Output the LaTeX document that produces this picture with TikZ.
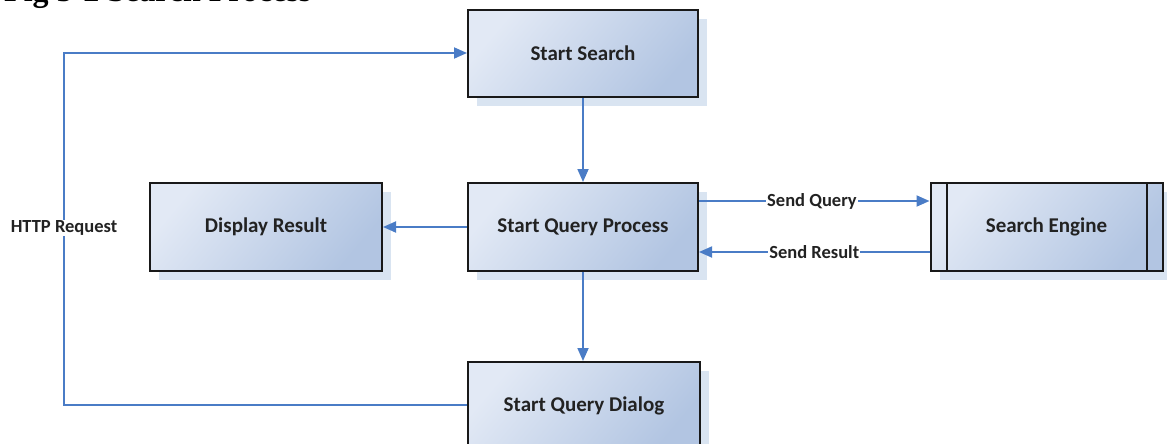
\documentclass[tikz,border=0pt]{standalone}
\usepackage{fontspec}
\setmainfont{Carlito}
\newfontfamily\titlefont{Liberation Serif}
\usetikzlibrary{arrows.meta,shadows}
\definecolor{lineblue}{HTML}{4A7CC6}
\definecolor{fillA}{HTML}{E2E9F5}
\definecolor{fillB}{HTML}{B2C5E2}
\definecolor{shadowc}{HTML}{D9E4F1}
\definecolor{txt}{HTML}{222222}
\tikzset{
  box/.style={draw=black!90, line width=2pt, minimum width=230pt, minimum height=87pt,
    inner sep=0pt, font=\fontsize{21}{24}\selectfont\bfseries, text=txt,
    left color=fillA, right color=fillB, shading angle=50,
    drop shadow={shadow xshift=9pt, shadow yshift=-9pt, fill=shadowc, opacity=1}},
  conn/.style={draw=lineblue, line width=1.8pt},
  arr/.style={conn, -{Triangle[length=13pt,width=11pt]}},
  lbl/.style={fill=white, inner sep=1pt, font=\fontsize{18.5}{21}\selectfont\bfseries, text=txt}
}
\begin{document}
\begin{tikzpicture}[x=1pt,y=1pt]
\useasboundingbox (0,0) rectangle (1167,-444);
\node[anchor=base west, inner sep=0pt, font=\titlefont\fontsize{32}{36}\selectfont\bfseries] (title) at (4,-2) {Fig 5-2 Search Process};
\node[box] (ss) at (583,-53.5) {Start Search};
\node[box, minimum width=232pt, minimum height=88pt] (dr) at (266,-227) {Display Result};
\node[box, minimum height=88pt] (sqp) at (583,-227) {Start Query Process};
\node[box, minimum width=232pt, minimum height=88pt] (se) at (1046.5,-227) {Search Engine};
\draw[black!90, line width=2pt] ([xshift=17pt]se.north west) -- ([xshift=17pt]se.south west);
\draw[black!90, line width=2pt] ([xshift=-17pt]se.north east) -- ([xshift=-17pt]se.south east);
\node[box, minimum width=232pt, minimum height=88pt] (sqd) at (584,-406) {Start Query Dialog};
\coordinate (c1) at (64,-405);
\coordinate (c2) at (64,-53);
\draw[arr] (ss.south) -- (sqp.north);
\draw[arr] (sqp.west) -- (dr.east);
\draw[arr] (sqp.south) -- (sqd.north -| sqp.south);
\draw[arr] ([yshift=26pt]sqp.east) -- ([yshift=26pt]se.west) node[lbl, pos=0.49] (sq) {Send Query};
\draw[arr] ([yshift=-25pt]se.west) -- ([yshift=-25pt]sqp.east) node[lbl, pos=0.5] (sr) {Send Result};
\draw[arr] (sqd.west |- c1) -- (c1) -- (c2) -- (ss.west |- c2);
\node[lbl] (http) at (64,-228) {HTTP Request};
\end{tikzpicture}
\end{document}
